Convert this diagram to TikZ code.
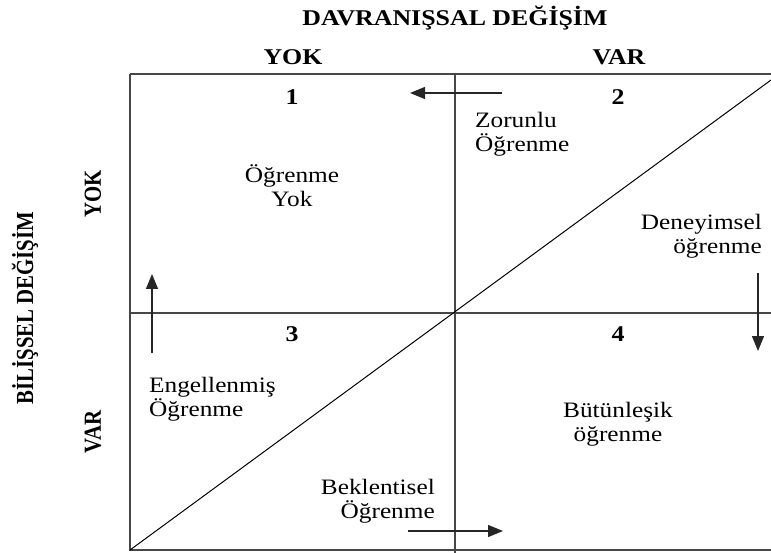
\documentclass[tikz,border=0pt]{standalone}
\usepackage{fontspec}
\setmainfont{Liberation Serif}[FakeStretch=1.15]
\newfontfamily\rotfont{Liberation Serif}[FakeStretch=0.85]
\usetikzlibrary{arrows.meta}
\begin{document}
\begin{tikzpicture}[x=1pt,y=-1pt,
  frame/.style={line width=1.5pt,draw=black!72},
  diag/.style={line width=1pt,draw=black},
  arr/.style={line width=1.3pt,draw=black!85,-{Triangle[length=15pt,width=12pt]}},
  hdr/.style={font=\fontsize{22.5}{24}\selectfont\bfseries,inner sep=0pt},
  rhdr/.style={font=\rotfont\fontsize{24.5}{24}\selectfont\bfseries,inner sep=0pt,rotate=90},
  txt/.style={font=\fontsize{22}{24}\selectfont,inner sep=0pt}]
\useasboundingbox (0,0) rectangle (771,553);
% coordinates of the frame
\coordinate (tl) at (130,74);
\coordinate (tr) at (771,74);
\coordinate (bl) at (130,550);
\coordinate (br) at (771,550);
\coordinate (ml) at (130,313);
\coordinate (mr) at (771,313);
\coordinate (mt) at (455,74);
\coordinate (mb) at (455,553);
\coordinate (de) at (771,80);
% frame
\draw[frame] (tl) -- (tr);
\draw[frame] (tl) -- (bl) -- (br);
\draw[frame] (ml) -- (mr);
\draw[frame] (mt) -- (mb);
\draw[diag] (bl) -- (de);
% headers
\node[hdr] (title) at (455,18) {DAVRANIŞSAL DEĞİŞİM};
\node[hdr] (yokT) at (293,57) {YOK};
\node[hdr] (varT) at (619,57) {VAR};
\node[rhdr] (bil) at (25,308) {BİLİŞSEL DEĞİŞİM};
\node[rhdr] (yokL) at (93,194) {YOK};
\node[rhdr] (varL) at (93,432) {VAR};
% numbers
\node[hdr] (n1) at (292,97) {1};
\node[hdr] (n2) at (618,97) {2};
\node[hdr] (n3) at (292,334) {3};
\node[hdr] (n4) at (618,334) {4};
% texts
\node[txt,align=center] (q1) at (292,186) {Öğrenme\\Yok};
\node[txt,align=left,anchor=west] (zor) at (475,134) {Zorunlu\\Öğrenme};
\node[txt,align=right,anchor=east] (den) at (762,236) {Deneyimsel\\öğrenme};
\node[txt,align=left,anchor=west] (eng) at (149,399) {Engellenmiş\\Öğrenme};
\node[txt,align=right,anchor=east] (bek) at (435,501) {Beklentisel\\Öğrenme};
\node[txt,align=center] (but) at (618,424) {Bütünleşik\\öğrenme};
% arrows
\coordinate (a1s) at (502,93);
\coordinate (a1e) at (410,93);
\coordinate (a2s) at (758,273);
\coordinate (a2e) at (758,351);
\coordinate (a3s) at (152,353);
\coordinate (a3e) at (152,274);
\coordinate (a4s) at (408,531);
\coordinate (a4e) at (503,531);
\draw[arr] (a1s) -- (a1e);
\draw[arr] (a2s) -- (a2e);
\draw[arr] (a3s) -- (a3e);
\draw[arr] (a4s) -- (a4e);
\end{tikzpicture}
\end{document}
